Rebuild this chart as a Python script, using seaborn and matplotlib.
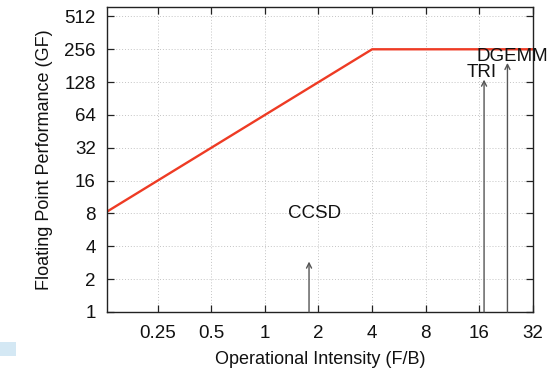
import matplotlib
matplotlib.use("Agg")
import matplotlib.pyplot as plt
import matplotlib.ticker as mticker
from matplotlib.patches import Rectangle
import seaborn as sns
import pandas as pd

# Roofline data
roof_x = [0.125, 4, 32]
roof_y = [8, 256, 256]

# Kernels (arrow tips) and their labels
kernels = ["CCSD", "TRI", "DGEMM"]
kernel_x = [1.77, 17.0, 23.0]
kernel_y = [2.9, 135, 192]
label_x = [1.9, 16.4, 24.6]
label_y = [8.0, 156, 222]

x_ticks = [0.25, 0.5, 1, 2, 4, 8, 16, 32]
x_tick_labels = ["0.25", "0.5", "1", "2", "4", "8", "16", "32"]
y_ticks = [1, 2, 4, 8, 16, 32, 64, 128, 256, 512]
y_tick_labels = ["1", "2", "4", "8", "16", "32", "64", "128", "256", "512"]

sns.set_theme(style="ticks")
plt.rcParams["font.family"] = ["Liberation Sans", "DejaVu Sans"]

fig = plt.figure(figsize=(5.57, 3.69), dpi=100)
ax = fig.add_axes([107 / 557, 1 - 312 / 369, (533 - 107) / 557, (312 - 7) / 369])

df = pd.DataFrame({"x": roof_x, "y": roof_y})
sns.lineplot(data=df, x="x", y="y", ax=ax, color="#ee3b24", linewidth=1.7,
             sort=False, estimator=None)

ax.set_xscale("log", base=2)
ax.set_yscale("log", base=2)
ax.set_xlim(0.13, 32)
ax.set_ylim(1, 625)

ax.set_xticks(x_ticks)
ax.set_xticklabels(x_tick_labels)
ax.set_yticks(y_ticks)
ax.set_yticklabels(y_tick_labels)
ax.xaxis.set_minor_locator(mticker.LogLocator(base=2, subs=[1.25, 1.5, 1.75]))
ax.yaxis.set_minor_locator(mticker.LogLocator(base=2, subs=[1.25, 1.5, 1.75]))
ax.xaxis.set_minor_formatter(mticker.NullFormatter())
ax.yaxis.set_minor_formatter(mticker.NullFormatter())

ax.tick_params(which="both", direction="in", top=True, right=True,
               color="#222222", labelsize=13.5, labelcolor="#111111")
ax.tick_params(which="major", length=5, width=0.9)
ax.tick_params(axis="x", which="major", pad=9)
ax.tick_params(axis="y", which="major", pad=8)
ax.tick_params(which="minor", length=2.5, width=0.7)
for s in ax.spines.values():
    s.set_color("#222222")
    s.set_linewidth(1.0)

ax.grid(True, which="major", linestyle=(0, (1, 2)), color="#c4c4c4", linewidth=0.7)

for name, kx, ky, lx, ly in zip(kernels, kernel_x, kernel_y, label_x, label_y):
    ax.annotate("", xy=(kx, ky), xytext=(kx, 1),
                arrowprops=dict(arrowstyle="->", color="#555555", lw=1.0,
                                shrinkA=0, shrinkB=0, mutation_scale=9))
    ax.text(lx, ly, name, ha="center", va="center", fontsize=13.5, color="#111111")

ax.set_xlabel("Operational Intensity (F/B)", fontsize=13, color="#111111", labelpad=7)
ax.set_ylabel("Floating Point Performance (GF)", fontsize=13, color="#111111", labelpad=8)

fig.patches.append(Rectangle((0, 1 - 356 / 369), 16 / 557, 14 / 369,
                             transform=fig.transFigure, facecolor="#d4e8f4",
                             edgecolor="none", zorder=0))

fig.savefig("out.png", dpi=100)
